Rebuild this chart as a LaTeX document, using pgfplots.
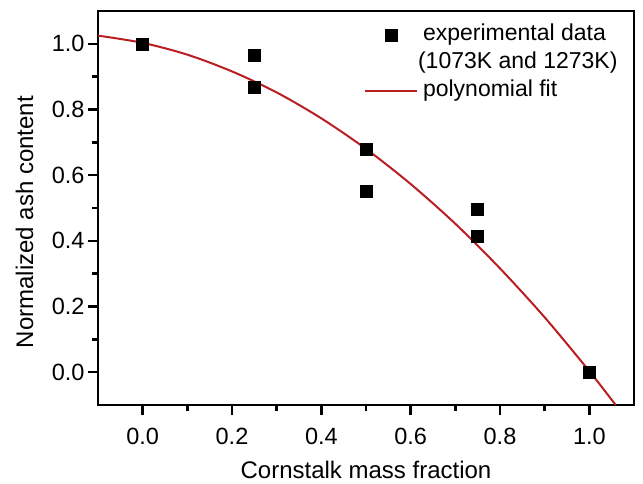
\documentclass[border=0pt]{standalone}
\usepackage{pgfplots}
\pgfplotsset{compat=1.18}
\usepackage{fontspec}
\setmainfont{Liberation Sans}
\definecolor{fitred}{RGB}{185,30,34}
\pgfplotsset{
  marklegend/.style={legend image code/.code={\draw[##1] plot coordinates {(26pt,0pt)};}},
  linelegend/.style={legend image code/.code={\draw[##1] (0pt,0pt) -- (52pt,0pt);}},
}
\begin{document}
\begin{tikzpicture}
\begin{axis}[
  at={(98pt,78pt)}, anchor=south west,
  scale only axis, width=536pt, height=394pt,
  xmin=-0.1, xmax=1.1, ymin=-0.1, ymax=1.1,
  xtick={0,0.2,0.4,0.6,0.8,1.0},
  ytick={0,0.2,0.4,0.6,0.8,1.0},
  minor tick num=1,
  tick pos=left, tick align=outside,
  major tick length=10pt, minor tick length=6pt,
  axis line style={line width=1.6pt},
  tick style={line width=2.4pt, black},
  major tick style={line width=2.4pt, black},
  minor tick style={line width=2.4pt, black},
  /pgf/number format/assume math mode=true,
  /pgf/number format/.cd, fixed, fixed zerofill, precision=1,
  /pgfplots/.cd,
  ticklabel style={font=\fontsize{23.5}{27}\selectfont},
  xticklabel style={yshift=-10pt},
  xlabel={Cornstalk mass fraction},
  ylabel={Normalized ash content},
  label style={font=\fontsize{24}{28}\selectfont},
  xlabel style={at={(axis description cs:0.5,-0.186)}, anchor=base},
  ylabel style={at={(axis description cs:-0.121,0.464)}, anchor=base},
  legend style={draw=none, fill=none, at={(axis description cs:0.496,0.968)}, anchor=north west,
    font=\fontsize{23}{27}\selectfont, inner sep=0pt,
    nodes={inner sep=0pt, text height=17pt, text depth=6pt},
    row sep=5pt},
  legend cell align=left,
  /tikz/every odd column/.append style={column sep=5pt},
]
\addplot[only marks, mark=square*, mark size=6pt, black, marklegend]
  coordinates {(0,1.0) (0.25,0.965) (0.25,0.868) (0.5,0.678) (0.5,0.552) (0.75,0.495) (0.75,0.415) (1.0,0.0)};
\addlegendentry{experimental data}
\addlegendimage{empty legend}
\addlegendentry{\hspace{-5pt}(1073K and 1273K)}
\addplot[fitred, line width=2pt, smooth, no marks, linelegend]
  coordinates {(-0.1,1.025) (0,1.003) (0.1,0.967) (0.2,0.916) (0.3,0.852) (0.4,0.773) (0.5,0.680) (0.6,0.573) (0.7,0.452) (0.8,0.316) (0.9,0.167) (1.0,0.003) (1.059,-0.1)};
\addlegendentry{polynomial fit}
\end{axis}
\pgfresetboundingbox
\path[use as bounding box] (0,0) rectangle (643pt,483pt);
\end{tikzpicture}
\end{document}
